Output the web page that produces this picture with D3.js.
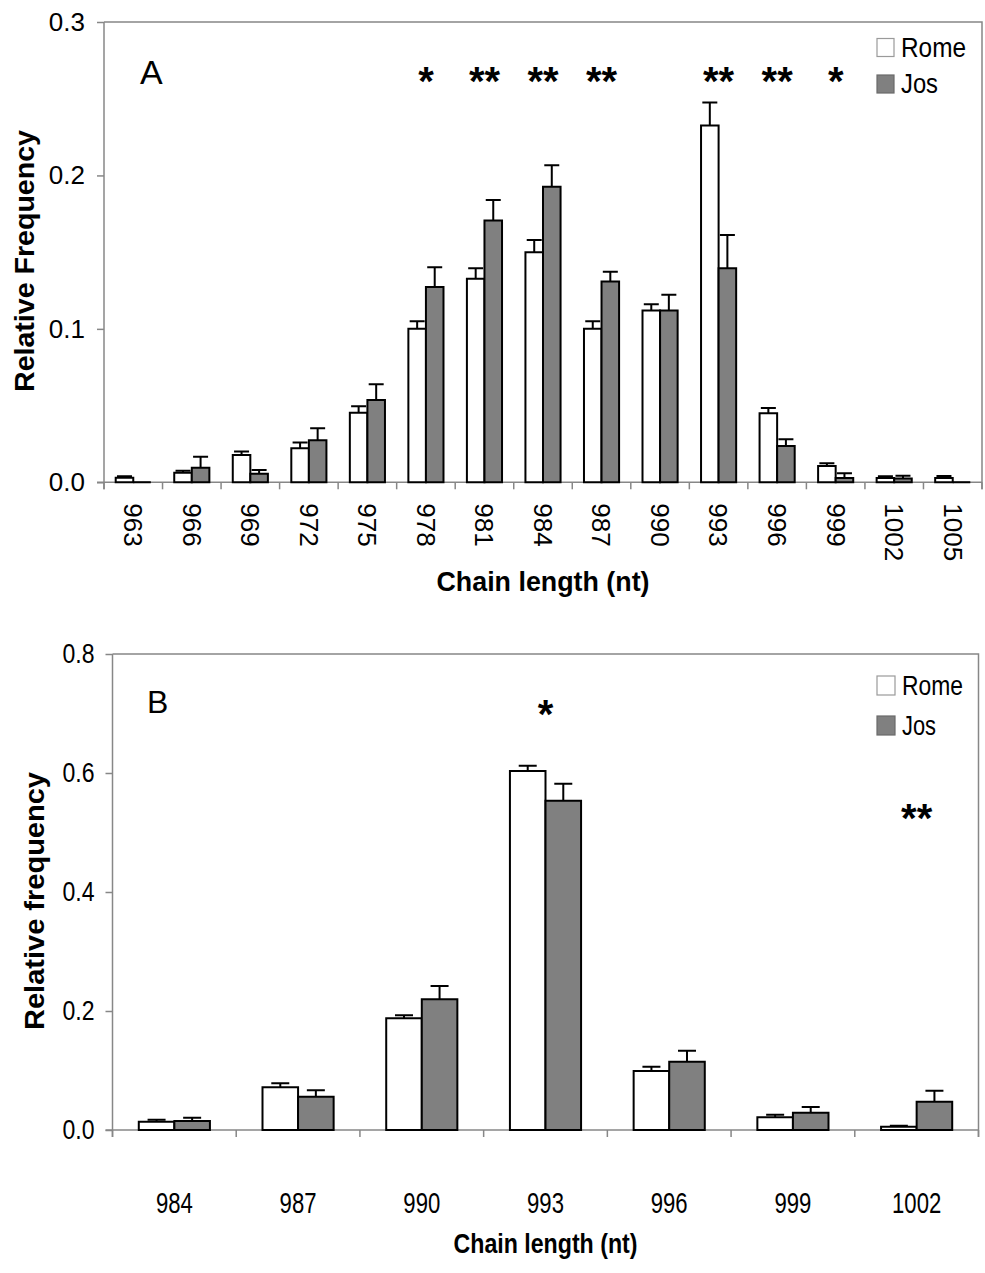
<!DOCTYPE html>
<html><head><meta charset="utf-8">
<script src="https://cdn.jsdelivr.net/npm/d3@7"></script>
<style>
body{margin:0;background:#fff}
svg{display:block}
text{font-family:"Liberation Sans",Arial,Helvetica,sans-serif;fill:#000}
</style>
</head><body>
<svg id="c" width="985" height="1273"></svg>
<script>
// ---------- DATA ----------
const seriesNames = ["Rome", "Jos"];

// Panel A
const catsA = [963, 966, 969, 972, 975, 978, 981, 984, 987, 990, 993, 996, 999, 1002, 1005];
const romeA    = [0.003, 0.0063, 0.0178, 0.0222, 0.0454, 0.100, 0.1327, 0.150, 0.100, 0.112, 0.2325, 0.045, 0.0106, 0.0028, 0.0028];
const romeAErr = [0.001, 0.0013, 0.0022, 0.0038, 0.0041, 0.005, 0.0068, 0.008, 0.005, 0.004, 0.015, 0.0034, 0.0018, 0.0012, 0.0013];
const josA     = [0, 0.0095, 0.0056, 0.0274, 0.0537, 0.1273, 0.1706, 0.1927, 0.1308, 0.1119, 0.1395, 0.0237, 0.0028, 0.0025, 0];
const josAErr  = [0, 0.0072, 0.0024, 0.0078, 0.0102, 0.0129, 0.0134, 0.014, 0.0065, 0.0104, 0.0217, 0.0043, 0.0031, 0.0018, 0];
const yTicksA  = [0, 0.1, 0.2, 0.3];
const sigCatsA   = [978, 981, 984, 987, 993, 996, 999];
const sigLabelsA = ["*", "**", "**", "**", "**", "**", "*"];
const sigLevelsA = [0.267, 0.267, 0.267, 0.267, 0.267, 0.267, 0.267];

// Panel B
const catsB = [984, 987, 990, 993, 996, 999, 1002];
const romeB    = [0.014, 0.0717, 0.1877, 0.6034, 0.0992, 0.0213, 0.0056];
const romeBErr = [0.0033, 0.0067, 0.0053, 0.0086, 0.0072, 0.0045, 0.0017];
const josB     = [0.0151, 0.056, 0.2196, 0.5535, 0.1148, 0.029, 0.0476];
const josBErr  = [0.0056, 0.011, 0.0224, 0.0285, 0.0185, 0.0097, 0.0184];
const yTicksB  = [0, 0.2, 0.4, 0.6, 0.8];
const sigCatsB   = [993, 1002];
const sigLabelsB = ["*", "**"];
const sigLevelsB = [0.712, 0.538];

// ---------- DRAW ----------
const svg = d3.select("#c");
svg.append("rect").attr("width", 985).attr("height", 1273).attr("fill", "#fff");
const AXIS = "#878787";
const GRAY = "#808080";

function drawPanel(p) {
  const g = svg.append("g");
  const x = d3.scaleBand().domain(p.cats).range([p.left, p.right]);
  const y = d3.scaleLinear().domain([0, p.yMax]).range([p.bottom, p.top]);
  const bw = x.bandwidth();
  const barW = bw * p.groupFrac / 2;
  const off = (bw - 2 * barW) / 2;

  // frame (top & right)
  g.append("path")
    .attr("d", `M${p.left},${p.top}H${p.right}V${p.bottom + 7}`)
    .attr("fill", "none").attr("stroke", AXIS).attr("stroke-width", 1.5);

  // y axis
  const ya = d3.axisLeft(y).tickValues(p.yTicks).tickFormat(d3.format(".1f"))
    .tickSize(7).tickSizeOuter(0).tickPadding(p.yPad);
  const yg = g.append("g").attr("transform", `translate(${p.left},0)`).call(ya)
    .attr("font-family", null).attr("font-size", null);
  yg.select(".domain").remove();
  yg.selectAll(".tick line").attr("stroke", AXIS).attr("stroke-width", 1.5);
  yg.selectAll(".tick text").attr("font-size", p.yTickFont).attr("fill", "#000")
    .each(function(){ if (p.yTickLen) d3.select(this).attr("textLength", p.yTickLen).attr("lengthAdjust", "spacingAndGlyphs"); });

  g.append("line").attr("x1", p.left).attr("x2", p.left).attr("y1", p.top).attr("y2", p.bottom + 7)
    .attr("stroke", AXIS).attr("stroke-width", 1.5);
  // x axis line
  g.append("line").attr("x1", p.left - 7).attr("x2", p.right).attr("y1", p.bottom).attr("y2", p.bottom)
    .attr("stroke", AXIS).attr("stroke-width", 1.5);
  // boundary ticks
  const bounds = p.cats.map(c => x(c)).concat([x(p.cats[p.cats.length - 1]) + bw]);
  g.selectAll(".xb").data(bounds).join("line")
    .attr("x1", d => d).attr("x2", d => d).attr("y1", p.bottom).attr("y2", p.bottom + 7)
    .attr("stroke", AXIS).attr("stroke-width", 1.5);

  // bars + error bars
  const series = [
    { vals: p.rome, errs: p.romeErr, fill: "#fff" },
    { vals: p.jos, errs: p.josErr, fill: GRAY }
  ];
  series.forEach((s, si) => {
    const data = p.cats.map((c, i) => ({ c, v: s.vals[i], e: s.errs[i] }));
    const bx = d => x(d.c) + off + si * barW;
    g.append("g").selectAll("path").data(data.filter(d => d.e > 0)).join("path")
      .attr("d", d => {
        const cx = bx(d) + barW / 2;
        return `M${cx},${y(d.v)}V${y(d.v + d.e)}M${cx - p.capW / 2},${y(d.v + d.e)}H${cx + p.capW / 2}`;
      })
      .attr("stroke", "#000").attr("stroke-width", 2).attr("fill", "none");
    g.append("g").selectAll("path").data(data).join("path")
      .attr("d", d => `M${bx(d)},${y(0)}V${y(d.v)}H${bx(d) + barW}V${y(0)}Z`)
      .attr("fill", s.fill).attr("stroke", "#000").attr("stroke-width", 2);
  });

  // x tick labels
  const xl = g.append("g").selectAll("text").data(p.cats).join("text").text(d => d)
    .attr("font-size", p.xTickFont);
  if (p.rotateX) {
    xl.attr("text-anchor", "start").attr("dy", "0.35em")
      .attr("transform", d => `translate(${x(d) + bw / 2},${p.bottom + p.xTickOff}) rotate(90)`);
  } else {
    xl.attr("text-anchor", "middle").attr("x", d => x(d) + bw / 2).attr("y", p.bottom + p.xTickOff)
      .attr("textLength", d => String(d).length * p.xCharW).attr("lengthAdjust", "spacingAndGlyphs");
  }

  // significance marks
  g.append("g").selectAll("text").data(p.sigCats.map((c, i) => ({ c, l: p.sigLabels[i], v: p.sigLevels[i] })))
    .join("text").text(d => d.l)
    .attr("x", d => x(d.c) + bw / 2).attr("y", d => y(d.v) + p.sigFont * 0.55)
    .attr("text-anchor", "middle").attr("font-size", p.sigFont).attr("font-weight", "bold");

  // panel letter
  g.append("text").text(p.letter).attr("x", p.letterX).attr("y", p.letterY).attr("font-size", p.letterFont);

  // legend
  const lg = g.append("g");
  seriesNames.forEach((n, i) => {
    const ly = p.legY + i * p.legGap;
    lg.append("rect").attr("x", p.legX).attr("y", ly - p.legBox).attr("width", p.legBox - 1).attr("height", p.legBox)
      .attr("fill", i ? GRAY : "#fff").attr("stroke", i ? "#6a6a6a" : "#9a9a9a").attr("stroke-width", 1.2);
    lg.append("text").text(n).attr("x", p.legX + p.legBox + 6).attr("y", ly).attr("font-size", p.legFont)
      .attr("textLength", p.legLens[i]).attr("lengthAdjust", "spacingAndGlyphs");
  });

  // axis titles
  g.append("text").text(p.xTitle).attr("x", (p.left + p.right) / 2).attr("y", p.xTitleY)
    .attr("text-anchor", "middle").attr("font-weight", "bold").attr("font-size", p.xTitleFont)
    .attr("textLength", p.xTitleLen).attr("lengthAdjust", "spacingAndGlyphs");
  g.append("text").text(p.yTitle)
    .attr("transform", `translate(${p.yTitleX},${p.yTitleC}) rotate(-90)`)
    .attr("text-anchor", "middle").attr("font-weight", "bold").attr("font-size", p.yTitleFont)
    .attr("textLength", p.yTitleLen).attr("lengthAdjust", "spacingAndGlyphs");
}

drawPanel({
  cats: catsA, rome: romeA, romeErr: romeAErr, jos: josA, josErr: josAErr,
  yMax: 0.3, yTicks: yTicksA, left: 104, right: 982, top: 22, bottom: 482.3,
  groupFrac: 0.6, capW: 15, yPad: 12, yTickFont: 26,
  rotateX: true, xTickFont: 26, xTickOff: 21,
  sigCats: sigCatsA, sigLabels: sigLabelsA, sigLevels: sigLevelsA, sigFont: 40,
  letter: "A", letterX: 140, letterY: 84, letterFont: 34,
  legX: 877, legY: 56.5, legGap: 36.5, legBox: 18, legFont: 27, legLens: [65, 37],
  xTitle: "Chain length (nt)", xTitleY: 591, xTitleFont: 27, xTitleLen: 213,
  yTitle: "Relative Frequency", yTitleX: 34, yTitleC: 261, yTitleFont: 28, yTitleLen: 262
});

drawPanel({
  cats: catsB, rome: romeB, romeErr: romeBErr, jos: josB, josErr: josBErr,
  yMax: 0.8, yTicks: yTicksB, left: 112.5, right: 978.5, top: 654, bottom: 1130,
  groupFrac: 0.575, capW: 18, yPad: 11, yTickFont: 27, yTickLen: 32,
  rotateX: false, xTickFont: 30, xTickOff: 82.7, xCharW: 12.3,
  sigCats: sigCatsB, sigLabels: sigLabelsB, sigLevels: sigLevelsB, sigFont: 40,
  letter: "B", letterX: 147, letterY: 713, letterFont: 32,
  legX: 877, legY: 695, legGap: 40, legBox: 19, legFont: 28, legLens: [61, 34],
  xTitle: "Chain length (nt)", xTitleY: 1253, xTitleFont: 28, xTitleLen: 184,
  yTitle: "Relative frequency", yTitleX: 44, yTitleC: 901, yTitleFont: 27, yTitleLen: 258
});
</script>
</body></html>
